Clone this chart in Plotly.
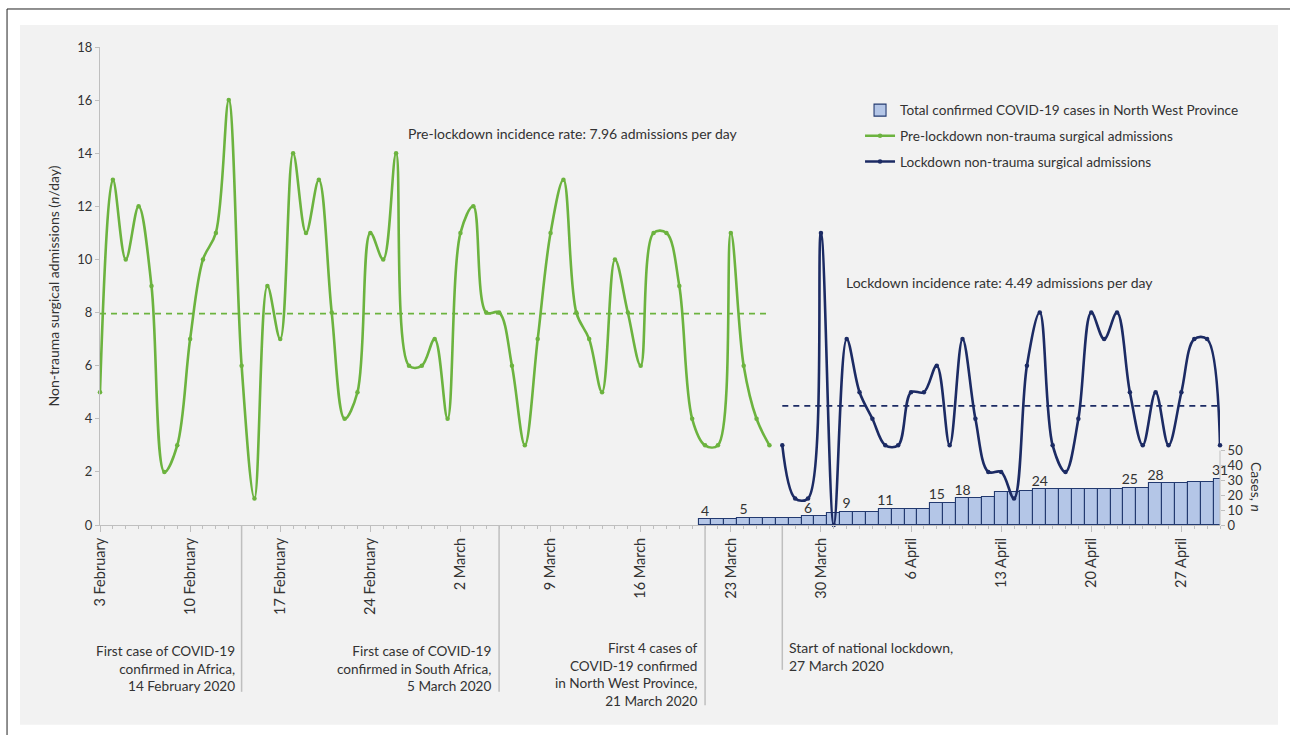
import numpy as np
import pandas as pd
import plotly.graph_objects as go

# Daily non-trauma surgical admissions before lockdown (3 Feb - 26 Mar 2020)
pre_start, pre_end = "2020-02-03", "2020-03-26"
pre_admissions = [5, 13, 10, 12, 9, 2, 3, 7, 10, 11, 16, 6, 1, 9, 7, 14, 11, 13, 8, 4, 5, 11, 10, 14, 6, 6, 7,
                  4, 11, 12, 8, 8, 6, 3, 7, 11, 13, 8, 7, 5, 10, 8, 6, 11, 11, 9, 4, 3, 3, 11, 6, 4, 3]

# Daily admissions during lockdown (27 Mar - 30 Apr 2020)
lock_start, lock_end = "2020-03-27", "2020-04-30"
lock_admissions = [3, 1, 1, 11, 0, 7, 5, 4, 3, 3, 5, 5, 6, 3, 7, 4, 2, 2, 1, 6, 8, 3, 2, 4, 8, 7, 8, 5, 3, 5,
                   3, 5, 7, 7, 3]

# Cumulative confirmed COVID-19 cases in North West Province (21 Mar - 30 Apr 2020)
cases_start, cases_end = "2020-03-21", "2020-04-30"
cases = [4, 4, 4, 5, 5, 5, 5, 5, 6, 6, 8, 9, 9, 9, 11, 11, 11, 11, 15, 15, 18, 18, 19, 22, 22, 23, 24, 24, 24,
         24, 24, 24, 24, 25, 25, 28, 28, 28, 29, 29, 31]
labelled_case_days = ["2020-03-21", "2020-03-24", "2020-03-29", "2020-04-01", "2020-04-04", "2020-04-08",
                      "2020-04-10", "2020-04-16", "2020-04-23", "2020-04-25", "2020-04-30"]

# Weekly axis ticks
tick_days = ["2020-02-03", "2020-02-10", "2020-02-17", "2020-02-24", "2020-03-02", "2020-03-09", "2020-03-16",
             "2020-03-23", "2020-03-30", "2020-04-06", "2020-04-13", "2020-04-20", "2020-04-27"]
tick_labels = ["3 February", "10 February", "17 February", "24 February", "2 March", "9 March", "16 March",
               "23 March", "30 March", "6 April", "13 April", "20 April", "27 April"]

# Key events
event_days = ["2020-02-14", "2020-03-05", "2020-03-21", "2020-03-27"]
event_texts = ["First case of COVID-19<br>confirmed in Africa,<br>14 February 2020",
               "First case of COVID-19<br>confirmed in South Africa,<br>5 March 2020",
               "First 4 cases of<br>COVID-19 confirmed<br>in North West Province,<br>21 March 2020",
               "Start of national lockdown,<br>27 March 2020"]

GREEN = "#6cb33f"
NAVY = "#1c2b64"
BAR_FILL = "#b4c6e7"
GREY_LINE = "#bfbfbf"
TEXT = "#333333"
FONT = "Lato, 'Open Sans', sans-serif"
NARROW = "'Liberation Sans Narrow', 'Arial Narrow', Lato, sans-serif"

pre_dates = pd.date_range(pre_start, pre_end)
lock_dates = pd.date_range(lock_start, lock_end)
case_dates = pd.date_range(cases_start, cases_end)
labelled = pd.to_datetime(labelled_case_days)
label_values = [cases[case_dates.get_loc(d)] for d in labelled]

pre_mean = float(np.mean(pre_admissions))
lock_mean = float(np.mean(lock_admissions))

fig = go.Figure()

fig.add_trace(go.Bar(
    x=case_dates, y=cases, yaxis="y", legendgroup="cases",
    name="Total confirmed COVID-19 cases in North West Province",
    marker=dict(color=BAR_FILL, line=dict(color="#233a70", width=1.1)),
    hoverinfo="x+y",
))
# value labels above the bars where the count steps up
fig.add_trace(go.Scatter(
    x=labelled, y=label_values, yaxis="y", mode="text", text=[str(v) for v in label_values],
    textposition="top center", textfont=dict(family=FONT, size=14, color=TEXT),
    showlegend=False, cliponaxis=False, hoverinfo="skip",
))

fig.add_trace(go.Scatter(
    x=pre_dates, y=pre_admissions, yaxis="y2", mode="lines+markers", legendgroup="pre",
    name="Pre-lockdown non-trauma surgical admissions",
    line=dict(color=GREEN, width=2.6, shape="spline", smoothing=1.0),
    marker=dict(size=4.5, color=GREEN), cliponaxis=False,
))
fig.add_trace(go.Scatter(
    x=lock_dates, y=lock_admissions, yaxis="y2", mode="lines+markers", legendgroup="lock",
    name="Lockdown non-trauma surgical admissions",
    line=dict(color=NAVY, width=2.6, shape="spline", smoothing=1.0),
    marker=dict(size=4.5, color=NAVY), cliponaxis=False,
))

# Mean incidence lines
fig.add_trace(go.Scatter(
    x=[pre_dates[0], pre_dates[-1]], y=[pre_mean, pre_mean], yaxis="y2", mode="lines",
    line=dict(color=GREEN, width=1.8, dash="6px,5px"), showlegend=False, hoverinfo="skip",
))
fig.add_trace(go.Scatter(
    x=[lock_dates[0], lock_dates[-1]], y=[lock_mean, lock_mean], yaxis="y2", mode="lines",
    line=dict(color=NAVY, width=1.8, dash="6px,5px"), showlegend=False, hoverinfo="skip",
))

shapes = [
    # panel background
    dict(type="rect", xref="paper", yref="paper", x0=-0.0714, x1=1.0518, y0=-0.418, y1=1.046,
         fillcolor="#f2f2f2", line=dict(width=0), layer="below"),
    # outer frame
    dict(type="line", xref="paper", yref="paper", x0=-0.083, x1=1.07, y0=1.0795, y1=1.0795,
         line=dict(color="#222222", width=1)),
    dict(type="line", xref="paper", yref="paper", x0=-0.083, x1=-0.083, y0=1.0795, y1=-0.45,
         line=dict(color="#222222", width=1)),
    # right axis line, only over the 0-50 cases scale
    dict(type="line", xref="paper", yref="y", x0=1, x1=1, y0=0, y1=50,
         line=dict(color=GREY_LINE, width=1)),
]

event_line_bottoms = [-0.349, -0.349, -0.377, -0.303]
for d, yb in zip(event_days, event_line_bottoms):
    shapes.append(dict(type="line", xref="x", yref="paper", x0=d, x1=d, y0=0, y1=yb,
                       line=dict(color=GREY_LINE, width=1.5)))

annotations = [
    dict(xref="paper", yref="paper", x=0.273, y=0.82, xanchor="left", yanchor="middle", showarrow=False,
         text=f"Pre-lockdown incidence rate: {pre_mean:.2f} admissions per day",
         font=dict(family=FONT, size=14, color=TEXT)),
    dict(xref="paper", yref="paper", x=0.664, y=0.508, xanchor="left", yanchor="middle", showarrow=False,
         text=f"Lockdown incidence rate: {lock_mean:.2f} admissions per day",
         font=dict(family=FONT, size=14, color=TEXT)),
    dict(xref="paper", yref="paper", x=1.032, y=0.08, xanchor="center", yanchor="middle", showarrow=False,
         text="Cases, <i>n</i>", textangle=90, font=dict(family=FONT, size=14, color=TEXT)),
]

event_tops = [-0.2437, -0.2437, -0.2354, -0.234]
for i, (d, t, yt) in enumerate(zip(event_days, event_texts, event_tops)):
    last = i == len(event_days) - 1
    annotations.append(dict(
        xref="x", yref="paper", x=d, y=yt, yanchor="top", showarrow=False, text=t,
        xanchor="left" if last else "right", align="left" if last else "right",
        xshift=5 if last else -5,
        font=dict(family=FONT if last else NARROW, size=14 if last else 13.6, color=TEXT),
    ))

fig.update_layout(
    width=1290, height=735,
    margin=dict(l=100, r=70, t=47, b=210),
    paper_bgcolor="white", plot_bgcolor="rgba(0,0,0,0)",
    font=dict(family=FONT, size=13, color=TEXT),
    bargap=0,
    showlegend=True,
    legend=dict(x=0.6786, y=0.9, xanchor="left", yanchor="top", bgcolor="rgba(0,0,0,0)",
                traceorder="grouped", tracegroupgap=5,
                font=dict(family=FONT, size=13.6, color=TEXT), itemwidth=30),
    xaxis=dict(
        type="date", range=[pre_start, lock_end], anchor="y",
        tickvals=tick_days, ticktext=tick_labels, tickangle=-90,
        tickfont=dict(family=FONT, size=14.5, color=TEXT),
        ticks="outside", ticklen=6, tickcolor=GREY_LINE,
        minor=dict(dtick=86400000, ticks="outside", ticklen=3, tickcolor=GREY_LINE),
        showline=True, linecolor=GREY_LINE, linewidth=1, showgrid=False, zeroline=False,
    ),
    yaxis=dict(
        side="right", range=[0, 321], tickvals=[0, 10, 20, 30, 40, 50],
        ticks="outside", ticklen=4, tickcolor=GREY_LINE,
        tickfont=dict(family=FONT, size=13, color=TEXT),
        showline=False, showgrid=False, zeroline=False,
    ),
    yaxis2=dict(
        overlaying="y", side="left", anchor="x", range=[0, 18], dtick=2,
        ticks="outside", ticklen=4, tickcolor=GREY_LINE,
        tickfont=dict(family=FONT, size=13, color=TEXT),
        showline=True, linecolor=GREY_LINE, linewidth=1, showgrid=False, zeroline=False,
        title=dict(text="Non-trauma surgical admissions (<i>n</i>/day)",
                   font=dict(family=FONT, size=14, color=TEXT), standoff=14),
    ),
    shapes=shapes,
    annotations=annotations,
)

fig.write_html("out.html")
